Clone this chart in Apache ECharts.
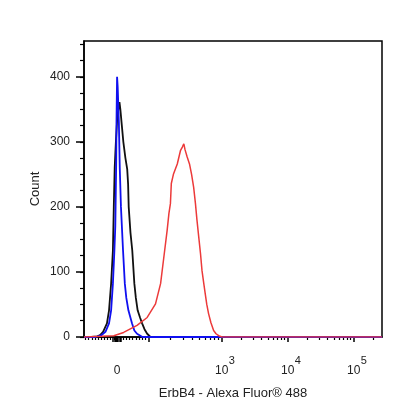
<!DOCTYPE html>
<html>
<head>
<meta charset="utf-8">
<script src="https://cdn.jsdelivr.net/npm/echarts@6/dist/echarts.min.js"></script>
<style>
html,body{margin:0;padding:0;background:#fff;}
#chart{width:416px;height:416px;}
</style>
</head>
<body>
<div id="chart"></div>
<script>
// Histogram x values are display channels (0-1000 across the plot), y are counts.
const blackX = [0,25,45,54,64,77,84,91,97,100,103,107,112,119,122,127,132,139,145,148,150,156,162,169,174,180,188,195,203,212,223,1000];
const blackY = [0,0,1,3,8,21,41,82,133,200,260,300,340,361,350,325,300,275,258,235,200,160,133,82,60,41,30,21,12,5,0,0];

const blueX = [0,39,59,72,84,91,97,102,105,106,108,109,111,113,117,120,124,131,137,142,149,161,169,178,196,1000];
const blueY = [0,0,3,8,21,41,82,133,170,200,265,330,400,385,330,260,200,133,82,60,41,21,10,5,0,0];

const redX = [0,60,100,133,178,212,240,257,268,279,285,290,293,300,313,324,330,335,339,346,354,361,368,374,379,385,391,396,402,407,412,418,426,435,443,452,463,1000];
const redY = [0,1,2,7,18,30,51,82,123,164,190,205,236,250,266,287,292,297,288,277,266,250,230,205,180,154,128,102,82,66,50,36,22,10,5,2,0,0];

// Axis tick values (fluorescence units) and labels
const xLabelValues = [0, 1000, 10000, 100000];
const xLabelBase = ['0', '10', '10', '10'];
const xLabelExp = ['', '3', '4', '5'];
const xMajorValues = [0, 100, 1000, 10000, 100000];
const xZeroCluster = [-12, -8, -4, 4, 8, 12];
const yMajorValues = [0, 100, 200, 300, 400];
const yMinorStep = 25;
const yMax = 455;

// biexponential-like display transform: fluorescence value -> display channel
function toChannel(v) {
  if (v <= 100) return 110.7 + v * 1.056;
  if (v < 1000) return 216.3 + Math.log10(v / 100) * 245.8;
  return 462.1 + (Math.log10(v) - 3) * 221.35;
}

const xMinorValues = [];
for (let v = -100; v <= 90; v += 10) if (v !== 0) xMinorValues.push(v);
[100, 1000, 10000, 100000].forEach(function (d) {
  for (let k = 2; k <= 9; k++) xMinorValues.push(k * d);
});

const xMajorCh = xMajorValues.concat(xZeroCluster).map(toChannel);
const xMinorCh = xMinorValues.map(toChannel).filter(function (c) { return c >= 0 && c <= 1000; });
const xLabelCh = xLabelValues.map(toChannel);

const yMinorValues = [];
for (let v = 0; v <= yMax; v += yMinorStep) yMinorValues.push(v);

function zip(xs, ys) { return xs.map(function (x, i) { return [x, ys[i]]; }); }

const chart = echarts.init(document.getElementById('chart'), null, {renderer: 'canvas'});
const axisCol = '#000';
const textCol = '#222';
chart.setOption({
  animation: false,
  backgroundColor: '#fff',
  grid: {left: 84, right: 34, top: 41, bottom: 79, show: true, borderColor: '#000', borderWidth: 1.5, backgroundColor: 'transparent'},
  xAxis: [{
    type: 'value', min: 0, max: 1000, position: 'bottom',
    name: 'ErbB4 - Alexa Fluor® 488', nameLocation: 'middle', nameGap: 50, nameMoveOverlap: false,
    nameTextStyle: {fontFamily: 'Liberation Sans, Arial', fontSize: 13, color: textCol},
    axisLine: {show: true, onZero: false, lineStyle: {color: axisCol, width: 1.5}},
    axisTick: {show: true, length: 5, customValues: xMajorCh, lineStyle: {color: axisCol, width: 1.5}},
    axisLabel: {
      show: true, margin: 18, customValues: xLabelCh,
      fontFamily: 'Liberation Sans, Arial', color: textCol,
      formatter: function (val) {
        let best = 0, bd = Infinity;
        xLabelCh.forEach(function (c, i) { const d = Math.abs(c - val); if (d < bd) { bd = d; best = i; } });
        if (xLabelExp[best] === '') return '{n|' + xLabelBase[best] + '}';
        return '{sp|}{n|' + xLabelBase[best] + '}{s|' + xLabelExp[best] + '}';
      },
      rich: {
        n: {fontSize: 12, color: textCol, fontFamily: 'Liberation Sans, Arial', lineHeight: 22, verticalAlign: 'bottom'},
        s: {fontSize: 11, color: textCol, fontFamily: 'Liberation Sans, Arial', lineHeight: 22, verticalAlign: 'top', width: 7},
        sp: {width: 7, lineHeight: 22}
      }
    },
    splitLine: {show: false}
  }, {
    type: 'value', min: 0, max: 1000, position: 'bottom',
    axisLine: {show: false, onZero: false},
    axisTick: {show: true, length: 3, customValues: xMinorCh, lineStyle: {color: axisCol, width: 1.2}},
    axisLabel: {show: false},
    splitLine: {show: false}
  }],
  yAxis: [{
    type: 'value', min: 0, max: yMax, position: 'left',
    name: 'Count', nameLocation: 'middle', nameGap: 42, nameMoveOverlap: false,
    nameTextStyle: {fontFamily: 'Liberation Sans, Arial', fontSize: 13, color: textCol},
    axisLine: {show: true, onZero: false, lineStyle: {color: axisCol, width: 1.5}},
    axisTick: {show: true, length: 8, customValues: yMajorValues, lineStyle: {color: axisCol, width: 1.5}},
    axisLabel: {show: true, margin: 14, customValues: yMajorValues, fontSize: 12, color: textCol, fontFamily: 'Liberation Sans, Arial'},
    splitLine: {show: false}
  }, {
    type: 'value', min: 0, max: yMax, position: 'left',
    axisLine: {show: false, onZero: false},
    axisTick: {show: true, length: 4, customValues: yMinorValues, lineStyle: {color: axisCol, width: 1.2}},
    axisLabel: {show: false},
    splitLine: {show: false}
  }],
  series: [
    {type: 'line', name: 'black', data: zip(blackX, blackY), showSymbol: false, lineStyle: {color: '#111', width: 1.8}, itemStyle: {color: '#111'}},
    {type: 'line', name: 'blue', data: zip(blueX, blueY), showSymbol: false, lineStyle: {color: '#1010f0', width: 1.8}, itemStyle: {color: '#1010f0'}},
    {type: 'line', name: 'red', data: zip(redX, redY), showSymbol: false, lineStyle: {color: '#ec3a3a', width: 1.5}, itemStyle: {color: '#ec3a3a'}}
  ]
});
</script>
</body>
</html>
